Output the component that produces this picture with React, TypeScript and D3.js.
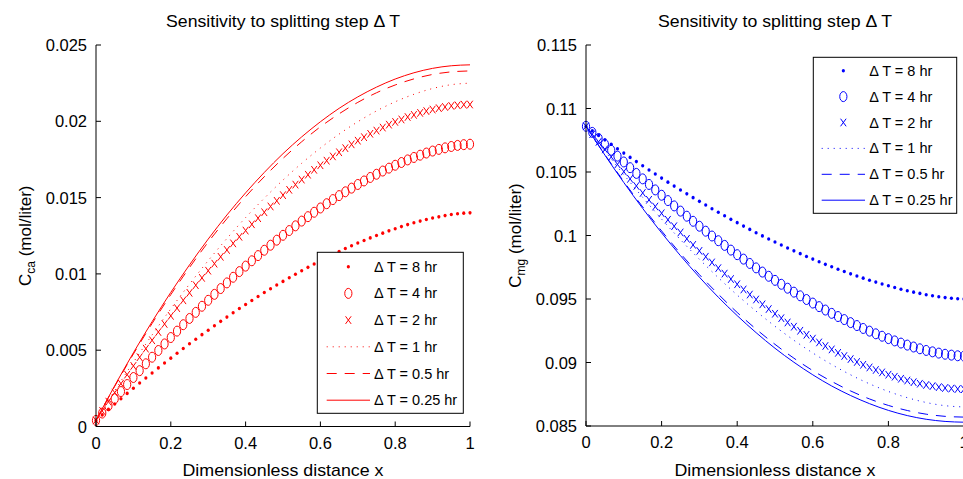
import React from 'react';
import * as d3 from 'd3';

const FONT = '"Liberation Sans", Arial, Helvetica, sans-serif';

// x grid of the marker series (61 points) and of the line series (21 points)
const X_MARK = [0, 0.0167, 0.0333, 0.05, 0.0667, 0.0833, 0.1, 0.1167, 0.1333, 0.15, 0.1667, 0.1833, 0.2, 0.2167, 0.2333, 0.25, 0.2667, 0.2833, 0.3, 0.3167, 0.3333, 0.35, 0.3667, 0.3833, 0.4, 0.4167, 0.4333, 0.45, 0.4667, 0.4833, 0.5, 0.5167, 0.5333, 0.55, 0.5667, 0.5833, 0.6, 0.6167, 0.6333, 0.65, 0.6667, 0.6833, 0.7, 0.7167, 0.7333, 0.75, 0.7667, 0.7833, 0.8, 0.8167, 0.8333, 0.85, 0.8667, 0.8833, 0.9, 0.9167, 0.9333, 0.95, 0.9667, 0.9833, 1];
const X_LINE = [0, 0.05, 0.1, 0.15, 0.2, 0.25, 0.3, 0.35, 0.4, 0.45, 0.5, 0.55, 0.6, 0.65, 0.7, 0.75, 0.8, 0.85, 0.9, 0.95, 1];

const LABELS = ['\u0394 T = 8 hr', '\u0394 T = 4 hr', '\u0394 T = 2 hr', '\u0394 T = 1 hr', '\u0394 T = 0.5 hr', '\u0394 T = 0.25 hr'];
const X_TICKS = [0, 0.2, 0.4, 0.6, 0.8, 1];
const CA_TICKS = [0, 0.005, 0.01, 0.015, 0.02, 0.025];
const MG_TICKS = [0.085, 0.09, 0.095, 0.1, 0.105, 0.11, 0.115];

// Left panel: C_ca
const CA_8HR = [0.0004, 0.00076, 0.00112, 0.00147, 0.00182, 0.00217, 0.00251, 0.00285, 0.00318, 0.00351, 0.00384, 0.00416, 0.00448, 0.0048, 0.00511, 0.00542, 0.00572, 0.00602, 0.00631, 0.0066, 0.00689, 0.00717, 0.00745, 0.00773, 0.00799, 0.00826, 0.00852, 0.00878, 0.00903, 0.00927, 0.00951, 0.00975, 0.00998, 0.01021, 0.01043, 0.01065, 0.01086, 0.01107, 0.01127, 0.01146, 0.01166, 0.01184, 0.01202, 0.01219, 0.01236, 0.01252, 0.01267, 0.01282, 0.01296, 0.0131, 0.01323, 0.01335, 0.01346, 0.01356, 0.01366, 0.01374, 0.01382, 0.01389, 0.01394, 0.01398, 0.014];
const CA_4HR = [0.0004, 0.00088, 0.00136, 0.00182, 0.00229, 0.00275, 0.00321, 0.00366, 0.00411, 0.00454, 0.00498, 0.00541, 0.00583, 0.00625, 0.00667, 0.00708, 0.00748, 0.00788, 0.00827, 0.00866, 0.00904, 0.00941, 0.00978, 0.01015, 0.01051, 0.01086, 0.0112, 0.01155, 0.01188, 0.01221, 0.01253, 0.01284, 0.01315, 0.01346, 0.01375, 0.01404, 0.01432, 0.0146, 0.01487, 0.01513, 0.01538, 0.01562, 0.01586, 0.01609, 0.01632, 0.01653, 0.01674, 0.01693, 0.01712, 0.0173, 0.01747, 0.01763, 0.01778, 0.01792, 0.01805, 0.01816, 0.01826, 0.01835, 0.01842, 0.01847, 0.0185];
const CA_2HR = [0.0004, 0.00102, 0.00163, 0.00222, 0.00281, 0.0034, 0.00397, 0.00454, 0.0051, 0.00565, 0.00619, 0.00672, 0.00725, 0.00776, 0.00827, 0.00876, 0.00926, 0.00974, 0.01021, 0.01067, 0.01112, 0.01157, 0.012, 0.01243, 0.01284, 0.01325, 0.01365, 0.01404, 0.01442, 0.01479, 0.01516, 0.01551, 0.01585, 0.01618, 0.0165, 0.01682, 0.01712, 0.01742, 0.0177, 0.01797, 0.01824, 0.01849, 0.01873, 0.01896, 0.01918, 0.01939, 0.01959, 0.01978, 0.01996, 0.02012, 0.02028, 0.02042, 0.02055, 0.02067, 0.02077, 0.02086, 0.02094, 0.02101, 0.02105, 0.02109, 0.0211];
const CA_1HR = [0.0004, 0.00235, 0.00421, 0.006, 0.00771, 0.00933, 0.01087, 0.01232, 0.01369, 0.01496, 0.01615, 0.01725, 0.01825, 0.01916, 0.01997, 0.02068, 0.02128, 0.02177, 0.02215, 0.0224, 0.0225];
const CA_05HR = [0.0004, 0.00263, 0.00475, 0.00675, 0.00864, 0.01042, 0.01208, 0.01362, 0.01506, 0.01637, 0.01757, 0.01866, 0.01964, 0.02049, 0.02124, 0.02187, 0.02238, 0.02278, 0.02307, 0.02324, 0.0233];
const CA_025HR = [0.0004, 0.00267, 0.00483, 0.00687, 0.00879, 0.01059, 0.01228, 0.01386, 0.01531, 0.01665, 0.01788, 0.01898, 0.01997, 0.02085, 0.0216, 0.02224, 0.02277, 0.02318, 0.02347, 0.02364, 0.0237];

// Right panel: C_mg
const MG_8HR = [0.1086, 0.10824, 0.10788, 0.10753, 0.10718, 0.10683, 0.10649, 0.10615, 0.10582, 0.10549, 0.10516, 0.10484, 0.10452, 0.1042, 0.10389, 0.10358, 0.10328, 0.10298, 0.10269, 0.1024, 0.10211, 0.10183, 0.10155, 0.10127, 0.10101, 0.10074, 0.10048, 0.10022, 0.09997, 0.09973, 0.09949, 0.09925, 0.09902, 0.09879, 0.09857, 0.09835, 0.09814, 0.09793, 0.09773, 0.09754, 0.09734, 0.09716, 0.09698, 0.09681, 0.09664, 0.09648, 0.09633, 0.09618, 0.09604, 0.0959, 0.09577, 0.09565, 0.09554, 0.09544, 0.09534, 0.09526, 0.09518, 0.09511, 0.09506, 0.09502, 0.095];
const MG_4HR = [0.1086, 0.10812, 0.10764, 0.10718, 0.10671, 0.10625, 0.10579, 0.10534, 0.10489, 0.10446, 0.10402, 0.10359, 0.10317, 0.10275, 0.10233, 0.10192, 0.10152, 0.10112, 0.10073, 0.10034, 0.09996, 0.09959, 0.09922, 0.09885, 0.09849, 0.09814, 0.0978, 0.09745, 0.09712, 0.09679, 0.09647, 0.09616, 0.09585, 0.09554, 0.09525, 0.09496, 0.09468, 0.0944, 0.09413, 0.09387, 0.09362, 0.09338, 0.09314, 0.09291, 0.09268, 0.09247, 0.09226, 0.09207, 0.09188, 0.0917, 0.09153, 0.09137, 0.09122, 0.09108, 0.09095, 0.09084, 0.09074, 0.09065, 0.09058, 0.09053, 0.0905];
const MG_2HR = [0.1086, 0.10798, 0.10737, 0.10678, 0.10619, 0.1056, 0.10503, 0.10446, 0.1039, 0.10335, 0.10281, 0.10228, 0.10175, 0.10124, 0.10073, 0.10024, 0.09974, 0.09926, 0.09879, 0.09833, 0.09788, 0.09743, 0.097, 0.09657, 0.09616, 0.09575, 0.09535, 0.09496, 0.09458, 0.09421, 0.09384, 0.09349, 0.09315, 0.09282, 0.0925, 0.09218, 0.09188, 0.09158, 0.0913, 0.09103, 0.09076, 0.09051, 0.09027, 0.09004, 0.08982, 0.08961, 0.08941, 0.08922, 0.08904, 0.08888, 0.08872, 0.08858, 0.08845, 0.08833, 0.08823, 0.08814, 0.08806, 0.08799, 0.08795, 0.08791, 0.0879];
const MG_1HR = [0.1086, 0.10665, 0.10479, 0.103, 0.10129, 0.09967, 0.09813, 0.09668, 0.09531, 0.09404, 0.09285, 0.09175, 0.09075, 0.08984, 0.08903, 0.08832, 0.08772, 0.08723, 0.08685, 0.0866, 0.0865];
const MG_05HR = [0.1086, 0.10637, 0.10425, 0.10225, 0.10036, 0.09858, 0.09692, 0.09538, 0.09394, 0.09263, 0.09143, 0.09034, 0.08936, 0.08851, 0.08776, 0.08713, 0.08662, 0.08622, 0.08593, 0.08576, 0.0857];
const MG_025HR = [0.1086, 0.10633, 0.10417, 0.10213, 0.10021, 0.09841, 0.09672, 0.09514, 0.09369, 0.09235, 0.09112, 0.09002, 0.08903, 0.08815, 0.0874, 0.08676, 0.08623, 0.08582, 0.08553, 0.08536, 0.0853];

type Kind = 'dot' | 'circle' | 'cross' | 'dotted' | 'dashed' | 'solid';
const KINDS: Kind[] = ['dot', 'circle', 'cross', 'dotted', 'dashed', 'solid'];

function Mark({ kind, x, y, color }: { kind: Kind; x: number; y: number; color: string }) {
  if (kind === 'dot') return <ellipse cx={x} cy={y} rx={1.6} ry={1.8} fill={color} />;
  if (kind === 'circle') return <ellipse cx={x} cy={y} rx={3.6} ry={5} fill="none" stroke={color} strokeWidth={1} />;
  return (
    <g stroke={color} strokeWidth={1}>
      <line x1={x - 2.8} y1={y - 3.8} x2={x + 2.8} y2={y + 3.8} />
      <line x1={x - 2.8} y1={y + 3.8} x2={x + 2.8} y2={y - 3.8} />
    </g>
  );
}

function dashFor(kind: Kind) {
  if (kind === 'dotted') return '1,5';
  if (kind === 'dashed') return '10,8';
  return undefined;
}

interface PanelProps {
  left: number; right: number; top: number; bottom: number;
  yDomain: [number, number]; yTicks: number[];
  data: number[][]; color: string; sub: string;
  legend: { x0: number; x1: number; y0: number; y1: number; first: number; step: number; l0: number; l1: number; tx: number };
}

function Panel({ left, right, top, bottom, yDomain, yTicks, data, color, sub, legend }: PanelProps) {
  const xs = d3.scaleLinear().domain([0, 1]).range([left, right]);
  const ys = d3.scaleLinear().domain(yDomain).range([bottom, top]);
  const line = d3.line<[number, number]>().x(d => xs(d[0])).y(d => ys(d[1])).curve(d3.curveMonotoneX);
  const cx = (left + right) / 2;
  return (
    <g fontFamily={FONT}>
      <text x={cx} y={27} fontSize={17} textAnchor="middle" textLength={234} lengthAdjust="spacingAndGlyphs">Sensitivity to splitting step {'\u0394'} T</text>
      {data.map((vals, si) => {
        const kind = KINDS[si];
        const xsArr = vals.length === X_MARK.length ? X_MARK : X_LINE;
        if (kind === 'dot' || kind === 'circle' || kind === 'cross') {
          return (
            <g key={si}>
              {vals.map((v, i) => <Mark key={i} kind={kind} x={xs(xsArr[i])} y={ys(v)} color={color} />)}
            </g>
          );
        }
        const pts = vals.map((v, i) => [xsArr[i], v] as [number, number]);
        return <path key={si} d={line(pts) || ''} fill="none" stroke={color} strokeWidth={1} strokeDasharray={dashFor(kind)} />;
      })}
      <line x1={left} y1={bottom} x2={right} y2={bottom} stroke="#000" strokeWidth={1} />
      <line x1={left} y1={bottom} x2={left} y2={top} stroke="#000" strokeWidth={1} />
      {X_TICKS.map(t => (
        <g key={'x' + t}>
          <line x1={xs(t)} x2={xs(t)} y1={bottom} y2={bottom - 5} stroke="#000" strokeWidth={1} />
          <text x={xs(t)} y={bottom + 22} fontSize={16.5} textAnchor="middle">{String(t)}</text>
        </g>
      ))}
      {yTicks.map(t => (
        <g key={'y' + t}>
          <line x1={left} x2={left + 5} y1={ys(t)} y2={ys(t)} stroke="#000" strokeWidth={1} />
          <text x={left - 9} y={ys(t) + 6} fontSize={16.5} textAnchor="end">{String(t)}</text>
        </g>
      ))}
      <text x={cx} y={476} fontSize={17} textAnchor="middle" textLength={201} lengthAdjust="spacingAndGlyphs">Dimensionless distance x</text>
      <text transform={`translate(${left - 65},${(top + bottom) / 2}) rotate(-90)`} fontSize={17} textAnchor="middle">
        <tspan>C</tspan><tspan fontSize={12} dy={4}>{sub}</tspan><tspan dy={-4}> (mol/liter)</tspan>
      </text>
      <rect x={legend.x0} y={legend.y0} width={legend.x1 - legend.x0} height={legend.y1 - legend.y0} fill="#fff" stroke="#000" strokeWidth={1} />
      {LABELS.map((lab, k) => {
        const y = legend.first + k * legend.step;
        const kind = KINDS[k];
        const mx = (legend.l0 + legend.l1) / 2;
        return (
          <g key={lab}>
            {kind === 'dot' || kind === 'circle' || kind === 'cross'
              ? <Mark kind={kind} x={mx} y={y} color={color} />
              : <line x1={legend.l0} x2={legend.l1} y1={y} y2={y} stroke={color} strokeWidth={1} strokeDasharray={dashFor(kind)} />}
            <text x={legend.tx} y={y + 5} fontSize={14.5}>{lab}</text>
          </g>
        );
      })}
    </g>
  );
}

export default function App() {
  return (
    <svg width={963} height={479} style={{ position: 'absolute', left: 0, top: 0, background: '#fff' }}>
      <rect x={0} y={0} width={963} height={479} fill="#fff" />
      <Panel left={96} right={470} top={45} bottom={426.5} yDomain={[0, 0.025]} yTicks={CA_TICKS}
        data={[CA_8HR, CA_4HR, CA_2HR, CA_1HR, CA_05HR, CA_025HR]} color="#ff0000" sub="ca"
        legend={{ x0: 317.3, x1: 463.3, y0: 252.3, y1: 413.3, first: 266.7, step: 26.7, l0: 326.7, l1: 370, tx: 374 }} />
      <Panel left={586} right={964} top={45} bottom={426} yDomain={[0.085, 0.115]} yTicks={MG_TICKS}
        data={[MG_8HR, MG_4HR, MG_2HR, MG_1HR, MG_05HR, MG_025HR]} color="#0000ff" sub="mg"
        legend={{ x0: 813.3, x1: 956.7, y0: 57.3, y1: 213.3, first: 70.7, step: 25.9, l0: 821.7, l1: 865, tx: 869.3 }} />
    </svg>
  );
}
